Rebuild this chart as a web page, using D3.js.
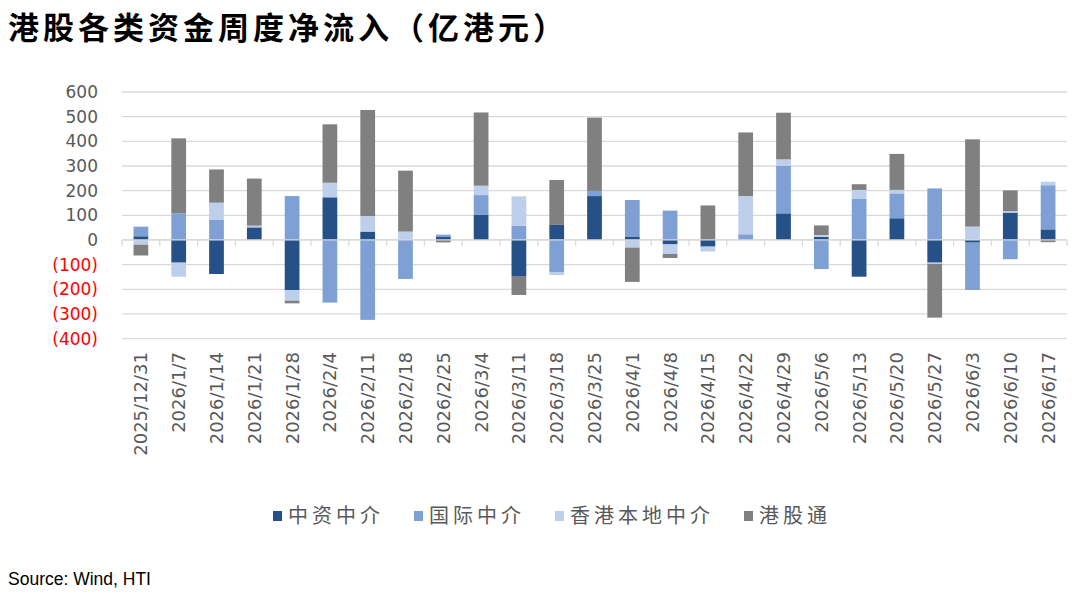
<!DOCTYPE html>
<html lang="zh">
<head>
<meta charset="UTF-8">
<title>港股各类资金周度净流入</title>
<script src="https://d3js.org/d3.v7.min.js"></script>
<style>
    body {
        margin: 0;
        background: #fff;
    }
    .title {
        font-family: "Noto Sans CJK SC", sans-serif;
        font-weight: bold;
        font-size: 31px;
        fill: #000;
        letter-spacing: 4px;
    }
    .tick-y {
        font-family: "DejaVu Sans", sans-serif;
        font-size: 17px;
    }
    .tick-x {
        font-family: "DejaVu Sans", sans-serif;
        font-size: 18px;
        fill: #595959;
    }
    .legend text {
        font-family: "Noto Sans CJK SC", sans-serif;
        font-size: 20px;
        fill: #595959;
        letter-spacing: 4px;
    }
    .source {
        font-family: "Liberation Sans", sans-serif;
        font-size: 17.5px;
        fill: #000;
    }
</style>
</head>
<body>
<div id="chart"></div>
<script>
    // weekly dates
    const categories = ['2025/12/31', '2026/1/7', '2026/1/14', '2026/1/21', '2026/1/28', '2026/2/4',
        '2026/2/11', '2026/2/18', '2026/2/25', '2026/3/4', '2026/3/11', '2026/3/18', '2026/3/25',
        '2026/4/1', '2026/4/8', '2026/4/15', '2026/4/22', '2026/4/29', '2026/5/6', '2026/5/13',
        '2026/5/20', '2026/5/27', '2026/6/3', '2026/6/10', '2026/6/17'];

    // series values (亿港元)
    const zhongziValues = [15, -92, -138, 50, -203, 173, 34, 0, 12, 103, -149, 61, 178, 12, -18, -27, 0, 108, 12, -149, 88, -92, -11, 111, 43];
    const guojiValues = [39, 108, 81, 5, 178, -254, -324, -158, 8, 79, 57, -132, 21, 150, 119, 0, 23, 192, -118, 166, 101, 209, -192, -78, 179];
    const bendiValues = [-19, -57, 70, 3, -43, 59, 63, 34, 3, 38, 120, -10, 0, -31, -39, -20, 155, 27, 8, 37, 14, -5, 54, 6, 14];
    const ggtValues = [-44, 304, 135, 191, -11, 237, 430, 247, -10, 297, -74, 182, 297, -139, -16, 140, 258, 189, 39, 23, 146, -218, 354, 84, -9];

    const seriesNames = ['中资中介', '国际中介', '香港本地中介', '港股通'];
    const seriesColors = ['#255188', '#7EA0D5', '#BDCFEB', '#808080'];
    const yTicks = [600, 500, 400, 300, 200, 100, 0, -100, -200, -300, -400];

    const width = 1080;
    const height = 596;
    const margin = { left: 122, right: 13, top: 92, bottom: 257.4 };

    const svg = d3.select('#chart').append('svg')
        .attr('width', width)
        .attr('height', height);

    svg.append('text')
        .attr('class', 'title')
        .attr('x', 8)
        .attr('y', 39)
        .text('港股各类资金周度净流入（亿港元）');

    const x = d3.scaleBand()
        .domain(categories)
        .range([margin.left, width - margin.right])
        .paddingInner(0.61)
        .paddingOuter(0.305);

    const y = d3.scaleLinear()
        .domain([-400, 600])
        .range([height - margin.bottom, margin.top]);

    // gridlines
    svg.append('g').selectAll('line')
        .data(yTicks)
        .enter().append('line')
        .attr('x1', margin.left)
        .attr('x2', width - margin.right)
        .attr('y1', d => y(d))
        .attr('y2', d => y(d))
        .attr('stroke', '#d9d9d9')
        .attr('stroke-width', 1.3);

    // y labels
    svg.append('g').selectAll('text')
        .data(yTicks)
        .enter().append('text')
        .attr('class', 'tick-y')
        .attr('x', 98)
        .attr('y', d => y(d))
        .attr('dy', '0.36em')
        .attr('text-anchor', 'end')
        .attr('fill', d => d < 0 ? '#FF0000' : '#595959')
        .text(d => d < 0 ? `(${-d})` : d);

    // stacked bars
    const rows = categories.map((c, i) => ({
        date: c,
        0: zhongziValues[i],
        1: guojiValues[i],
        2: bendiValues[i],
        3: ggtValues[i]
    }));

    const stacked = d3.stack()
        .keys([0, 1, 2, 3])
        .offset(d3.stackOffsetDiverging)(rows);

    svg.append('g').selectAll('g')
        .data(stacked)
        .enter().append('g')
        .attr('fill', (d, i) => seriesColors[i])
        .selectAll('rect')
        .data(d => d)
        .enter().append('rect')
        .attr('x', d => x(d.data.date))
        .attr('width', x.bandwidth())
        .attr('y', d => y(Math.max(d[0], d[1])))
        .attr('height', d => Math.abs(y(d[0]) - y(d[1])));

    // zero axis with category tick marks
    const step = x.step();
    const boundaries = d3.range(categories.length + 1).map(i => margin.left + i * step);
    svg.append('line')
        .attr('x1', margin.left)
        .attr('x2', width - margin.right)
        .attr('y1', y(0))
        .attr('y2', y(0))
        .attr('stroke', '#d9d9d9')
        .attr('stroke-width', 1.3);
    svg.append('g').selectAll('line')
        .data(boundaries)
        .enter().append('line')
        .attr('x1', d => d)
        .attr('x2', d => d)
        .attr('y1', y(0))
        .attr('y2', y(0) + 6)
        .attr('stroke', '#d9d9d9')
        .attr('stroke-width', 1.3);

    // x labels, rotated
    svg.append('g').selectAll('text')
        .data(categories)
        .enter().append('text')
        .attr('class', 'tick-x')
        .attr('transform', d => `translate(${x(d) + x.bandwidth() / 2},352) rotate(-90)`)
        .attr('dy', '0.36em')
        .attr('text-anchor', 'end')
        .text(d => d);

    // legend
    const legend = svg.append('g').attr('class', 'legend');
    const gap = 30;
    let lx = 0;
    seriesNames.forEach((name, i) => {
        const item = legend.append('g').attr('transform', `translate(${lx},0)`);
        item.append('rect')
            .attr('x', 0)
            .attr('y', -5)
            .attr('width', 9)
            .attr('height', 10)
            .attr('fill', seriesColors[i]);
        const t = item.append('text')
            .attr('x', 15)
            .attr('y', 0)
            .attr('dy', '0.36em')
            .text(name);
        lx += 15 + t.node().getComputedTextLength() + gap;
    });
    const legendWidth = lx - gap;
    legend.attr('transform', `translate(${552 - legendWidth / 2},516)`);

    svg.append('text')
        .attr('class', 'source')
        .attr('x', 8)
        .attr('y', 585)
        .text('Source: Wind, HTI');
</script>
</body>
</html>
